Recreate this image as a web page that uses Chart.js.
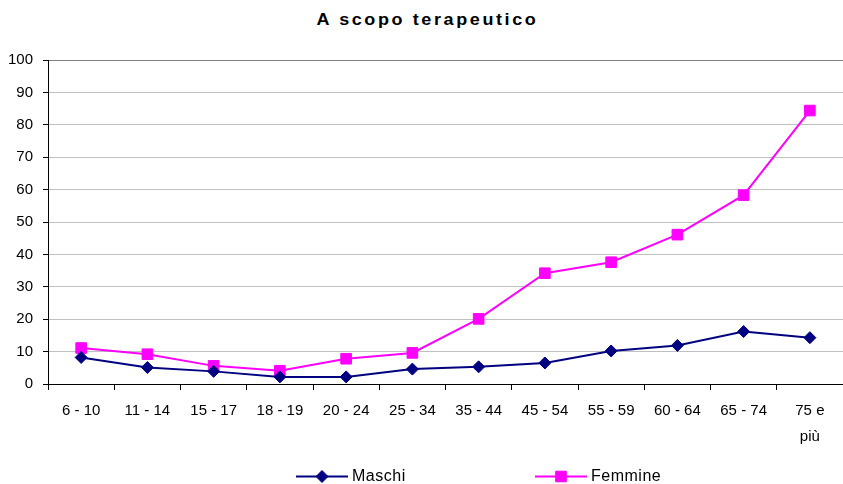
<!DOCTYPE html>
<html>
<head>
<meta charset="utf-8">
<title>A scopo terapeutico</title>
<script src="https://cdn.jsdelivr.net/npm/chart.js@4"></script>
<style>
  body { margin: 0; background: #fff; }
  .wrap { position: relative; width: 843px; height: 484px; }
  .title {
    position: absolute; top: 10px; left: 6px; width: 843px;
    text-align: center; font: bold 18px "Liberation Sans", Arial, sans-serif;
    letter-spacing: 2.6px; line-height: 20px; color: #000;
    transform: scaleY(0.88);
  }
  canvas { position: absolute; left: 0; top: 0; }
</style>
</head>
<body>
<div class="wrap">
  <div class="title">A scopo terapeutico</div>
  <canvas id="chart" width="843" height="484"></canvas>
</div>
<script>
/* ── Data ────────────────────────────────────────────── */
const ageGroups = ['6 - 10', '11 - 14', '15 - 17', '18 - 19', '20 - 24', '25 - 34',
  '35 - 44', '45 - 54', '55 - 59', '60 - 64', '65 - 74', ['75 e', 'più']];
const maschi  = [8.2, 5.1, 3.9, 2.2, 2.2, 4.6, 5.3, 6.5, 10.2, 11.9, 16.2, 14.3];
const femmine = [11.1, 9.2, 5.6, 4.1, 7.8, 9.6, 20.1, 34.2, 37.6, 46.1, 58.3, 84.4];
const yTicks = [0, 10, 20, 30, 40, 50, 60, 70, 80, 90, 100];

const FONT = '"Liberation Sans", Arial, sans-serif';

/* ── Legend (line + marker, like Excel) ──────────────── */
const legendSpots = [296, 535];   // left edge of each legend line
const excelLegend = {
  id: 'excelLegend',
  afterDraw(chart) {
    const ctx = chart.ctx;
    const y = 476.5;
    chart.data.datasets.forEach((ds, i) => {
      const x0 = legendSpots[i];
      ctx.save();
      ctx.strokeStyle = ds.borderColor;
      ctx.lineWidth = 2;
      ctx.beginPath();
      ctx.moveTo(x0, y);
      ctx.lineTo(x0 + 52, y);
      ctx.stroke();
      ctx.fillStyle = ds.pointBackgroundColor;
      ctx.strokeStyle = ds.pointBorderColor;
      ctx.lineWidth = 1;
      Chart.helpers.drawPoint(ctx, { pointStyle: ds.pointStyle, radius: ds.pointRadius, borderWidth: 1 }, x0 + 26, y);
      ctx.fillStyle = '#000';
      ctx.font = '16px ' + FONT;
      ctx.letterSpacing = '0.5px';
      ctx.textBaseline = 'middle';
      ctx.fillText(ds.label, x0 + 56, y);
      ctx.restore();
    });
  }
};

/* ── Chart ───────────────────────────────────────────── */
new Chart(document.getElementById('chart'), {
  type: 'line',
  data: {
    labels: ageGroups,
    datasets: [{
      label: 'Maschi',
      data: maschi,
      borderColor: '#000080',
      backgroundColor: '#000080',
      pointBackgroundColor: '#000080',
      pointBorderColor: '#000080',
      pointStyle: 'rectRot',
      pointRadius: 6,
      pointBorderWidth: 1,
      borderWidth: 2,
      tension: 0
    }, {
      label: 'Femmine',
      data: femmine,
      borderColor: '#ff00ff',
      backgroundColor: '#ff00ff',
      pointBackgroundColor: '#ff00ff',
      pointBorderColor: '#ff00ff',
      pointStyle: 'rect',
      pointRadius: 7.5,
      pointBorderWidth: 1,
      borderWidth: 2,
      tension: 0
    }]
  },
  options: {
    responsive: false,
    animation: false,
    // autoPadding off, otherwise the marker size eats ~10px on the right
    layout: { autoPadding: false, padding: { left: -2, right: 0, top: 60, bottom: 26 } },
    plugins: {
      legend: { display: false },
      title: { display: false },
      tooltip: { enabled: false }
    },
    scales: {
      x: {
        offset: true,
        grid: { offset: true, drawOnChartArea: false, tickLength: 6, tickColor: '#000' },
        border: { color: '#000', width: 1 },
        ticks: {
          color: '#000', padding: 8, maxRotation: 0, autoSkip: false,
          font: { family: FONT, size: 15, lineHeight: 1.733 }
        }
      },
      y: {
        min: 0, max: 100,
        afterBuildTicks: axis => { axis.ticks = yTicks.map(v => ({ value: v })); },
        grid: {
          color: ctx => ctx.tick && ctx.tick.value === 100 ? '#808080' : '#c0c0c0',
          tickLength: 5, tickColor: '#000'
        },
        border: { color: '#000', width: 1 },
        ticks: { color: '#000', padding: 10, font: { family: FONT, size: 15 } }
      }
    }
  },
  plugins: [excelLegend]
});
</script>
</body>
</html>
